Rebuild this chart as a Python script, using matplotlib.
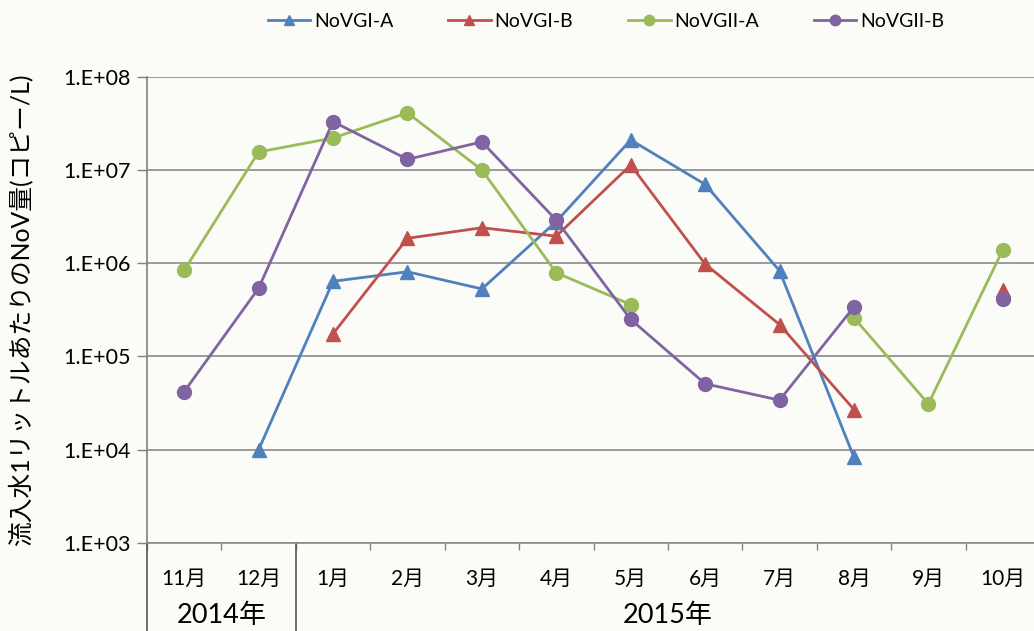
import numpy as np
import matplotlib
matplotlib.use("Agg")
import matplotlib.pyplot as plt
from matplotlib.ticker import FixedLocator, FuncFormatter, NullFormatter
from matplotlib.transforms import blended_transform_factory

plt.rcParams['font.family'] = ['Lato', 'Noto Sans CJK JP', 'DejaVu Sans']

months = ['11月', '12月', '1月', '2月', '3月', '4月', '5月', '6月', '7月', '8月', '9月', '10月']
years = ['2014年', '2015年']
year_spans = [(0, 1), (2, 11)]

nan = np.nan
novgi_a = [nan, 1.0e4, 6.4e5, 8.1e5, 5.3e5, 2.8e6, 2.1e7, 7.0e6, 8.3e5, 8.3e3, nan, nan]
novgi_b = [nan, nan, 1.75e5, 1.85e6, 2.4e6, 1.95e6, 1.13e7, 9.8e5, 2.2e5, 2.7e4, nan, 5.2e5]
novgii_a = [8.4e5, 1.56e7, 2.2e7, 4.1e7, 1.0e7, 7.9e5, 3.6e5, nan, nan, 2.6e5, 3.1e4, 1.39e6]
novgii_b = [4.2e4, 5.4e5, 3.3e7, 1.3e7, 2.0e7, 2.9e6, 2.5e5, 5.1e4, 3.4e4, 3.4e5, nan, 4.1e5]

series = [
    ('NoVGI-A', novgi_a, '#4F81BD', '^'),
    ('NoVGI-B', novgi_b, '#C0504D', '^'),
    ('NoVGII-A', novgii_a, '#9BBB59', 'o'),
    ('NoVGII-B', novgii_b, '#8064A2', 'o'),
]

W, H = 1034, 631
fig = plt.figure(figsize=(W / 100, H / 100), dpi=100)
bg = '#fbfbf8'
fig.patch.set_facecolor(bg)

left_px, right_px, top_px, bottom_px = 147, 1040, 76.7, 543
ax = fig.add_axes([left_px / W, 1 - bottom_px / H,
                   (right_px - left_px) / W, (bottom_px - top_px) / H])
ax.set_facecolor(bg)

x = np.arange(len(months))
handles = []
for name, vals, col, mk in series:
    h, = ax.plot(x, vals, color=col, lw=2.0, marker=mk, markersize=10,
                 markerfacecolor=col, markeredgecolor=col, label=name,
                 clip_on=False, zorder=3)
    handles.append(h)

ax.set_yscale('log')
ax.set_ylim(1e3, 1e8)
ax.set_xlim(-0.5, len(months) - 0.5)

ax.yaxis.set_major_locator(FixedLocator([10.0 ** k for k in range(3, 9)]))
ax.yaxis.set_minor_formatter(NullFormatter())
ax.yaxis.set_minor_locator(FixedLocator([]))
ax.yaxis.set_major_formatter(FuncFormatter(lambda v, p: '1.E+%02d' % int(round(np.log10(v)))))
ax.tick_params(axis='y', length=7, width=1, color='#808080', labelsize=15.5, pad=5)
ax.grid(axis='y', color='#8a8a8a', lw=1.2)
ax.set_axisbelow(True)

ax.set_xticks(x)
ax.set_xticklabels(months, fontsize=15)
ax.tick_params(axis='x', length=0, pad=19)
ax.set_xticks(np.arange(-0.5, len(months), 1.0), minor=True)
ax.tick_params(axis='x', which='minor', length=5, width=1, color='#808080', direction='out')

for s in ['top', 'right']:
    ax.spines[s].set_visible(False)
ax.spines['left'].set_color('#808080')
ax.spines['bottom'].set_color('#8a8a8a')
ax.spines['left'].set_linewidth(1.2)
ax.spines['bottom'].set_linewidth(1.2)

# year group separators and labels below the month axis
tr = blended_transform_factory(ax.transData, ax.transAxes)
for xs in [-0.5, 1.5]:
    ax.plot([xs, xs], [0, -0.2], transform=tr, color='#555555', lw=1.2, clip_on=False)
for label, (a, b) in zip(years, year_spans):
    ax.text((a + b) / 2, -0.155, label, transform=tr, ha='center', va='center', fontsize=19.5)

ax.set_ylabel('流入水1リットルあたりのNoV量(コピー/L)', fontsize=17.8, labelpad=22)

fig.legend(handles=handles, loc='center', bbox_to_anchor=(0.586, 0.966), ncol=4,
           frameon=False, fontsize=14, markerscale=0.75, handlelength=2.2,
           columnspacing=2.8, handletextpad=0.2)

fig.savefig('out.png', dpi=100, facecolor=bg)
